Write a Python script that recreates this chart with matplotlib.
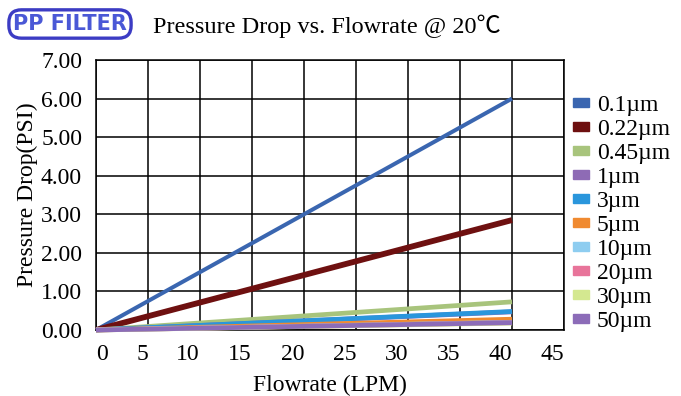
import matplotlib
matplotlib.use('Agg')
import matplotlib.pyplot as plt
from matplotlib.patches import Patch

# Pressure drop vs flowrate for PP filter cartridges
flow = [0, 40]
sizes = ['0.1µm', '0.22µm', '0.45µm', '1µm', '3µm', '5µm', '10µm', '20µm', '30µm', '50µm']
drop_01 = [0, 6.00]
drop_022 = [0, 2.85]
drop_045 = [0, 0.73]
drop_1 = [0, 0.47]
drop_3 = [0, 0.48]
drop_5 = [0, 0.28]
drop_10 = [0, 0.20]
drop_20 = [0, 0.19]
drop_30 = [0, 0.18]
drop_50 = [0, 0.19]
drops = [drop_01, drop_022, drop_045, drop_1, drop_3, drop_5, drop_10, drop_20, drop_30, drop_50]
colors = ['#3a66b0', '#6e1010', '#a8c47c', '#8e6bb5', '#2a96dc',
          '#f08a30', '#8ecdf0', '#e8749a', '#d4e890', '#8c6cb8']
widths = [2.9, 4.2, 3.4, 3.4, 3.4, 3.4, 3.4, 3.4, 3.4, 3.4]

xticks = [0, 5, 10, 15, 20, 25, 30, 35, 40, 45]
yticks = [0, 1, 2, 3, 4, 5, 6, 7]

serif = ['Liberation Serif', 'Noto Sans CJK JP', 'DejaVu Serif']
plt.rcParams['font.family'] = serif
fs = 17

fig = plt.figure(figsize=(6.81, 3.96), dpi=100)
ax = fig.add_axes([96/681, 1 - 330/396, 468/681, 270/396])

for d, c, w in zip(drops, colors, widths):
    ax.plot(flow, d, color=c, lw=w, solid_capstyle='butt', clip_on=False, zorder=3)

ax.set_xlim(0, 45)
ax.set_ylim(0, 7)
ax.set_xticks(xticks)
ax.set_yticks(yticks)
ax.set_yticklabels(['%.2f' % v for v in yticks], fontsize=fs)
ax.set_xticklabels([str(v) for v in xticks], fontsize=fs)
for i, lab in enumerate(ax.get_xticklabels()):
    lab.set_ha('left' if i == 0 else 'right')
ax.tick_params(length=0, pad=10)
ax.tick_params(axis='y', pad=10)
ax.grid(True, color='black', lw=1.1)
for s in ax.spines.values():
    s.set_linewidth(1.1)

ax.set_xlabel('Flowrate (LPM)', fontsize=fs, labelpad=7)
ax.set_ylabel('Pressure Drop(PSI)', fontsize=fs, labelpad=2)

handles = [Patch(color=c) for c in colors]
ax.legend(handles, sizes, loc='center left', bbox_to_anchor=(1.0, 0.431),
          frameon=False, fontsize=fs, handlelength=0.65, handleheight=0.22,
          handletextpad=0.35, labelspacing=0.13, borderaxespad=0.0, borderpad=0.4)

fig.text(153/681, 1 - 26/396, 'Pressure Drop vs. Flowrate @ 20℃', fontsize=17.5,
         va='center', ha='left', family=serif)
fig.text(70/681, 1 - 24/396, 'PP FILTER', fontsize=15, fontweight='bold',
         color='#4a58d6', family='DejaVu Sans', ha='center', va='center',
         bbox=dict(boxstyle='round,pad=0.2,rounding_size=0.6', fc='white',
                   ec='#3c3cc4', lw=2.4))

fig.savefig('out.png', dpi=100)
